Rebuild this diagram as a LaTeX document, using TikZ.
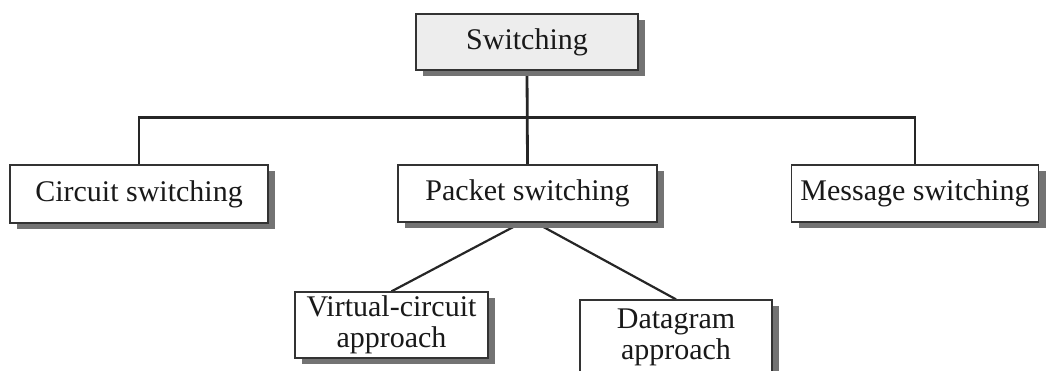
\documentclass[tikz,border=0pt]{standalone}
\usepackage{fontspec}
\setmainfont{Liberation Serif}
\usetikzlibrary{shadows,backgrounds}

\tikzset{
  box/.style={draw=black!80, line width=1.3pt, fill=white, text=black!90,
    inner sep=0pt, align=center,
    font=\fontsize{30}{31}\selectfont,
    drop shadow={shadow xshift=7pt, shadow yshift=-6pt, fill=black!55, opacity=1}},
  rootbox/.style={box, fill=gray!14},
  link/.style={line width=2.8pt, black!85},
  branch/.style={line width=2.2pt, black!85}
}

\begin{document}
\begin{tikzpicture}[x=1pt, y=-1pt]
  \useasboundingbox (0,0) rectangle (1049,370);
  \clip (0,0) rectangle (1049,370);

  \node[rootbox, minimum width=222pt, minimum height=56pt] (sw) at (527,42) {Switching};

  \node[box, minimum width=258pt, minimum height=58pt] (cs) at (139,194) {Circuit switching};
  \node[box, minimum width=259pt, minimum height=57pt] (ps) at (527.5,193.5) {Packet switching};
  \node[box, minimum width=247pt, minimum height=57pt] (ms) at (915,193.5) {Message switching};

  \node[box, minimum width=193pt, minimum height=66pt] (vc) at (391.5,325) {Virtual-circuit\\approach};
  \node[box, minimum width=192pt, minimum height=74pt] (dg) at (676,337) {Datagram\\approach};

  \begin{scope}[on background layer]
    \draw[link] (sw.south) -- (ps.north);
    \draw[link] (cs.north) -- ++(0,-47) coordinate (busl) -| (ms.north);
    \draw[branch] ([xshift=-6pt]ps.south) -- (vc.north);
    \draw[branch] ([xshift=8pt]ps.south) -- (dg.north);
  \end{scope}
\end{tikzpicture}
\end{document}
